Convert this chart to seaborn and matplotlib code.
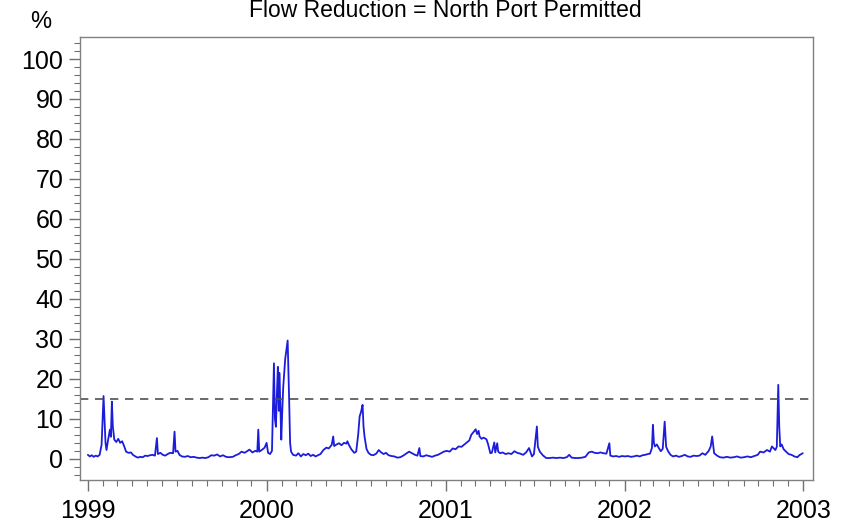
import matplotlib
matplotlib.use("Agg")
import matplotlib.pyplot as plt
import matplotlib.dates as mdates
from matplotlib.ticker import MultipleLocator
import pandas as pd
import seaborn as sns

# values, sparse daily samples (percent flow reduction)
Dates1999 = ["1999-01-01", "1999-01-05", "1999-01-09", "1999-01-13", "1999-01-17", "1999-01-21", "1999-01-25",
             "1999-01-29", "1999-02-02", "1999-02-04", "1999-02-06", "1999-02-08", "1999-02-11", "1999-02-15",
             "1999-02-17", "1999-02-19", "1999-02-21", "1999-02-24", "1999-02-28", "1999-03-04", "1999-03-08",
             "1999-03-12", "1999-03-16", "1999-03-20", "1999-03-25", "1999-03-30", "1999-04-03", "1999-04-08",
             "1999-04-13", "1999-04-18", "1999-04-23", "1999-04-28", "1999-05-03", "1999-05-08", "1999-05-13",
             "1999-05-18", "1999-05-22", "1999-05-24", "1999-05-29", "1999-06-03", "1999-06-08", "1999-06-13",
             "1999-06-18", "1999-06-24", "1999-06-27", "1999-06-29", "1999-07-03", "1999-07-07", "1999-07-12",
             "1999-07-18", "1999-07-24", "1999-07-30", "1999-08-05", "1999-08-11", "1999-08-17", "1999-08-23",
             "1999-08-29", "1999-09-04", "1999-09-10", "1999-09-16", "1999-09-22", "1999-09-28", "1999-10-04",
             "1999-10-10", "1999-10-16", "1999-10-24", "1999-10-30", "1999-11-05", "1999-11-11", "1999-11-17",
             "1999-11-23", "1999-11-27", "1999-12-03", "1999-12-09", "1999-12-13", "1999-12-15", "1999-12-17",
             "1999-12-22", "1999-12-28"]
Values1999 = [1.0, 0.6, 0.9, 0.5, 0.8, 0.6, 1.0,
              3.5, 15.7, 10.0, 4.0, 2.2, 4.5, 7.3,
              5.5, 14.3, 8.0, 4.8, 4.2, 5.0, 4.0,
              4.4, 3.2, 1.8, 1.5, 1.6, 1.0, 0.6,
              0.3, 0.5, 0.4, 0.8, 0.7, 0.9, 1.0,
              0.8, 5.2, 1.2, 1.5, 1.0, 0.8, 1.2,
              1.5, 1.4, 6.8, 1.8, 2.0, 1.0, 0.6,
              0.5, 0.7, 0.4, 0.5, 0.3, 0.2, 0.3,
              0.2, 0.4, 0.9, 0.8, 1.1, 0.6, 0.9,
              0.5, 0.4, 0.5, 0.9, 1.2, 1.8, 1.5,
              2.0, 2.3, 1.6, 2.0, 1.8, 7.3, 1.8,
              2.2, 2.8]

Dates2000 = ["2000-01-01", "2000-01-04", "2000-01-08", "2000-01-12", "2000-01-16", "2000-01-18", "2000-01-20",
             "2000-01-22", "2000-01-24", "2000-01-26", "2000-01-27", "2000-01-29", "2000-01-31", "2000-02-02",
             "2000-02-04", "2000-02-08", "2000-02-13", "2000-02-16", "2000-02-18", "2000-02-20", "2000-02-24",
             "2000-03-01", "2000-03-06", "2000-03-11", "2000-03-16", "2000-03-21", "2000-03-26", "2000-03-31",
             "2000-04-05", "2000-04-10", "2000-04-15", "2000-04-20", "2000-04-26", "2000-05-02", "2000-05-07",
             "2000-05-13", "2000-05-16", "2000-05-18", "2000-05-23", "2000-05-28", "2000-06-02", "2000-06-07",
             "2000-06-12", "2000-06-14", "2000-06-17", "2000-06-22", "2000-06-28", "2000-07-02", "2000-07-06",
             "2000-07-09", "2000-07-12", "2000-07-15", "2000-07-17", "2000-07-19", "2000-07-23", "2000-07-27",
             "2000-08-01", "2000-08-06", "2000-08-12", "2000-08-17", "2000-08-22", "2000-08-27", "2000-09-01",
             "2000-09-06", "2000-09-12", "2000-09-18", "2000-09-24", "2000-09-30", "2000-10-06", "2000-10-12",
             "2000-10-18", "2000-10-24", "2000-10-30", "2000-11-04", "2000-11-08", "2000-11-10", "2000-11-16",
             "2000-11-22", "2000-11-28", "2000-12-04", "2000-12-10", "2000-12-16", "2000-12-22", "2000-12-28"]
Values2000 = [4.0, 1.5, 1.2, 2.0, 23.9, 10.0, 8.0,
              16.0, 23.0, 12.0, 21.5, 14.0, 4.8, 12.0,
              18.0, 25.0, 29.6, 15.0, 4.0, 1.8, 1.0,
              0.8, 1.4, 0.6, 1.2, 0.9, 1.3, 0.7,
              1.0, 0.6, 0.9, 1.2, 2.2, 2.8, 2.6,
              3.5, 5.6, 3.2, 3.6, 3.9, 3.4, 4.0,
              3.8, 4.4, 3.5, 2.4, 1.5, 1.8, 6.0,
              10.6, 11.8, 13.5, 8.0, 5.6, 2.5, 1.5,
              1.0, 0.9, 1.3, 2.2, 1.6, 1.2, 1.5,
              0.9, 0.7, 0.6, 0.3, 0.4, 0.8, 1.3,
              1.8, 1.4, 1.0, 0.8, 2.7, 0.7, 0.6,
              0.9, 0.7, 0.5, 0.8, 1.0, 1.4, 1.8]

Dates2001 = ["2001-01-03", "2001-01-09", "2001-01-15", "2001-01-21", "2001-01-27", "2001-02-02", "2001-02-08",
             "2001-02-14", "2001-02-18", "2001-02-22", "2001-02-26", "2001-03-03", "2001-03-06", "2001-03-09",
             "2001-03-11", "2001-03-15", "2001-03-19", "2001-03-25", "2001-03-28", "2001-04-02", "2001-04-05",
             "2001-04-10", "2001-04-12", "2001-04-16", "2001-04-18", "2001-04-22", "2001-04-27", "2001-05-03",
             "2001-05-09", "2001-05-15", "2001-05-21", "2001-05-27", "2001-06-02", "2001-06-08", "2001-06-14",
             "2001-06-20", "2001-06-26", "2001-06-30", "2001-07-06", "2001-07-08", "2001-07-12", "2001-07-18",
             "2001-07-25", "2001-08-01", "2001-08-08", "2001-08-15", "2001-08-22", "2001-08-29", "2001-09-05",
             "2001-09-10", "2001-09-15", "2001-09-22", "2001-09-29", "2001-10-06", "2001-10-13", "2001-10-20",
             "2001-10-26", "2001-11-01", "2001-11-07", "2001-11-13", "2001-11-19", "2001-11-25", "2001-12-01",
             "2001-12-03", "2001-12-09", "2001-12-15", "2001-12-21", "2001-12-27"]
Values2001 = [2.0, 1.8, 2.6, 2.4, 3.1, 3.0, 3.6,
              4.2, 4.6, 6.0, 6.6, 7.4, 6.2, 7.0,
              5.6, 5.0, 5.3, 4.9, 3.8, 1.4, 1.5,
              4.1, 1.6, 3.9, 1.8, 1.4, 1.6, 1.2,
              1.4, 1.2, 1.9, 1.5, 1.3, 1.0, 1.6,
              2.7, 0.6, 1.2, 8.1, 3.0, 1.8, 0.9,
              0.2, 0.2, 0.3, 0.2, 0.3, 0.2, 0.4,
              1.0, 0.3, 0.2, 0.2, 0.3, 0.5, 1.6,
              1.8, 1.5, 1.4, 1.6, 1.4, 1.3, 3.9,
              0.8, 0.6, 0.7, 0.5, 0.7]

Dates2002 = ["2002-01-02", "2002-01-08", "2002-01-14", "2002-01-20", "2002-01-26", "2002-02-01", "2002-02-07",
             "2002-02-12", "2002-02-18", "2002-02-22", "2002-02-26", "2002-02-28", "2002-03-02", "2002-03-04",
             "2002-03-08", "2002-03-12", "2002-03-16", "2002-03-20", "2002-03-24", "2002-03-27", "2002-03-31",
             "2002-04-05", "2002-04-10", "2002-04-16", "2002-04-22", "2002-04-28", "2002-05-04", "2002-05-10",
             "2002-05-16", "2002-05-22", "2002-05-28", "2002-06-03", "2002-06-09", "2002-06-15", "2002-06-22",
             "2002-06-26", "2002-06-29", "2002-07-03", "2002-07-09", "2002-07-15", "2002-07-22", "2002-07-29",
             "2002-08-05", "2002-08-12", "2002-08-19", "2002-08-26", "2002-09-02", "2002-09-09", "2002-09-16",
             "2002-09-23", "2002-09-30", "2002-10-05", "2002-10-12", "2002-10-19", "2002-10-25", "2002-10-29",
             "2002-11-05", "2002-11-08", "2002-11-11", "2002-11-13", "2002-11-15", "2002-11-18", "2002-11-22",
             "2002-11-26", "2002-12-02", "2002-12-08", "2002-12-14", "2002-12-20", "2002-12-24", "2002-12-31"]
Values2002 = [0.6, 0.7, 0.5, 0.6, 0.8, 0.6, 0.9,
              1.0, 1.2, 1.3, 2.7, 8.5, 4.0, 3.1,
              3.6, 2.7, 1.9, 2.5, 9.3, 3.0, 1.9,
              1.0, 0.6, 0.8, 0.5, 0.7, 1.0, 0.6,
              0.5, 0.8, 0.7, 0.8, 1.4, 1.0, 2.0,
              3.1, 5.6, 1.4, 0.8, 0.4, 0.3, 0.5,
              0.3, 0.4, 0.6, 0.3, 0.4, 0.6, 0.4,
              0.7, 1.0, 1.8, 1.6, 2.2, 1.8, 3.1,
              2.2, 3.0, 18.5, 8.0, 3.1, 3.6, 2.4,
              1.9, 1.2, 1.0, 0.6, 0.4, 0.9, 1.4]

Threshold = 15
YearLabels = ["1999", "2000", "2001", "2002", "2003"]
ChartTitle = "Flow Reduction = North Port Permitted"

df = pd.DataFrame({
    "date": pd.to_datetime(Dates1999 + Dates2000 + Dates2001 + Dates2002),
    "reduction": Values1999 + Values2000 + Values2001 + Values2002,
})

sns.set_style("ticks")
plt.rcParams["font.family"] = ["Liberation Sans", "DejaVu Sans"]
plt.rcParams["text.color"] = "black"
plt.rcParams["xtick.labelcolor"] = "black"
plt.rcParams["ytick.labelcolor"] = "black"

fig = plt.figure(figsize=(8.57, 5.31), dpi=100)
ax = fig.add_axes([0.0934, 0.096, 0.8553, 0.8343])

sns.lineplot(data=df, x="date", y="reduction", color="#1c1cdc", linewidth=1.3, ax=ax)
ax.axhline(Threshold, color="#505050", linewidth=1.2, linestyle=(0, (5, 4)))

ax.set_xlim(pd.Timestamp("1998-12-16"), pd.Timestamp("2003-01-21"))
ax.set_ylim(-5.3, 105.5)
ax.set_xlabel("")
ax.set_ylabel("")

ax.xaxis.set_minor_locator(mdates.MonthLocator())
ax.set_xticks([pd.Timestamp(y + "-01-01") for y in YearLabels])
ax.set_xticklabels(YearLabels)
ax.yaxis.set_major_locator(MultipleLocator(10))
ax.yaxis.set_minor_locator(MultipleLocator(2))

ax.tick_params(axis="both", which="major", labelsize=18, color="#707070", width=1.0, length=8, pad=4)
ax.tick_params(axis="both", which="minor", color="#707070", width=0.8, length=4)
ax.tick_params(axis="x", which="major", pad=6)
for s in ax.spines.values():
    s.set_color("#808080")
    s.set_linewidth(1.0)

fig.text(0.047, 0.958, "%", fontsize=17, ha="center", va="center")
fig.text(0.52, 1 - 17 / 531, ChartTitle, fontsize=16.5, ha="center", va="baseline")

fig.savefig("out.png", dpi=100)
